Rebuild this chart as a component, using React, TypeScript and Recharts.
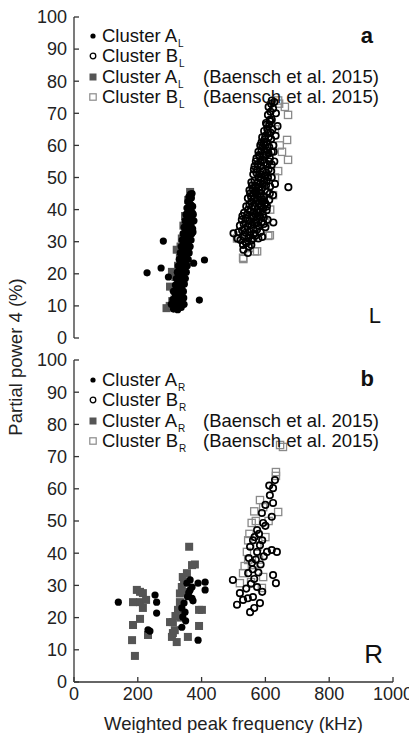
import React from 'react';
import { ScatterChart, Scatter, XAxis, YAxis, Legend } from 'recharts';

type Pt = [number, number];

const xTicks = [0, 200, 400, 600, 800, 1000];
const yTicks = [0, 10, 20, 30, 40, 50, 60, 70, 80, 90, 100];

// panel a (L): this study
const clusterAL: Pt[] = [
  [312, 9], [320, 9.5], [328, 10], [336, 9.5], [316, 11], [324, 11.8], [332, 11], [340, 10.5],
  [318, 13], [327, 13.5], [335, 12.8], [322, 15], [330, 15.5], [338, 15.2], [325, 17], [333, 17.5],
  [341, 17], [328, 19.2], [336, 19.5], [344, 19], [331, 21], [339, 21.8], [347, 21], [334, 23],
  [342, 23.5], [350, 22.8], [337, 25], [345, 25.6], [353, 25], [340, 27], [348, 27.4], [356, 27.2],
  [343, 29], [351, 29.6], [359, 29], [346, 31], [354, 31.5], [362, 30.8], [349, 33], [357, 33.5],
  [364, 33.2], [352, 35], [360, 35.6], [367, 35], [355, 37], [362, 37.5], [369, 37.2], [357, 39],
  [364, 39.5], [371, 39], [360, 41], [367, 41.5], [362, 43], [368, 43.6], [365, 44.8], [376, 36.5],
  [373, 33], [318, 9.8], [325, 8.8], [310, 12], [344, 12.5], [312, 14.5], [343, 14.5], [318, 16.5],
  [346, 16.8], [321, 18.5], [349, 18.5], [324, 20.5], [352, 20.5], [327, 22.5], [355, 22.5],
  [330, 24.5], [358, 24.5], [333, 26.5], [361, 26.5], [336, 28.5], [364, 28.5], [339, 30.5],
  [367, 30.5], [342, 32.5], [369, 32.5], [345, 34.5], [372, 34], [348, 36.5], [374, 38.5],
  [351, 38.5], [354, 40.5], [372, 41], [357, 42.5], [370, 45], [360, 44],
  [229, 20.3], [280, 30.2], [273, 21.8], [393, 11.8], [409, 24.3], [375, 23.3],
  [296, 19], [305, 10.5], [345, 10.5],
];

const clusterBL: Pt[] = [
  [545, 26.5], [531, 27.5], [548, 28.5], [540, 29.5], [556, 29],
  [500, 32.6], [512, 31], [522, 30.5], [533, 31.5], [546, 31], [558, 30.5], [568, 31.8], [578, 31],
  [590, 31.5], [515, 33], [527, 33.5], [538, 32.8], [551, 33.2], [563, 32.5], [574, 33.8], [585, 33],
  [520, 35], [532, 35.5], [544, 34.8], [556, 35.2], [566, 35.8], [578, 35], [588, 36], [600, 34.5],
  [625, 36], [526, 36.8], [538, 37.2], [550, 36.5], [561, 37.5], [572, 37], [583, 37.8], [595, 37.5],
  [607, 36.8], [533, 39], [543, 38.5], [553, 39.5], [563, 39], [574, 40], [584, 39.5], [594, 40.5],
  [604, 39.8], [540, 41], [550, 41.5], [560, 41], [570, 42], [580, 41.8], [590, 42.5], [600, 42],
  [612, 43], [545, 43.5], [555, 44], [565, 43.5], [575, 44.5], [585, 45], [595, 44.2], [606, 45.5],
  [624, 44.5], [550, 46], [560, 46.5], [570, 46], [580, 47], [590, 46.8], [602, 47.5], [615, 47.2],
  [672, 47], [630, 48], [556, 48.5], [566, 49], [576, 48.5], [586, 49.5], [596, 49], [608, 50],
  [620, 50], [562, 51], [572, 51.5], [582, 51], [592, 52], [603, 51.5], [618, 52], [566, 53.5],
  [576, 54], [586, 53.5], [596, 54.5], [606, 54], [628, 55], [572, 56], [582, 56.5], [592, 55.5],
  [602, 57], [614, 56], [578, 58], [588, 58.5], [598, 58], [620, 58], [584, 60], [594, 60.5],
  [604, 61], [612, 59.5], [625, 60], [590, 62.5], [600, 63], [610, 62.5], [632, 63], [596, 64.5],
  [606, 65], [616, 64], [638, 66], [602, 67], [612, 66.5], [620, 68], [608, 69.5], [616, 70.5],
  [624, 71.5], [628, 73.5], [618, 73], [633, 70],
  [538, 30], [552, 32], [562, 34], [572, 36], [582, 38], [592, 38.5], [548, 35.5], [558, 38],
  [568, 38.5], [578, 39], [588, 41], [598, 41.5], [546, 40], [556, 42.5], [566, 41], [576, 43],
  [586, 43.8], [596, 43], [552, 45], [562, 45], [572, 45.5], [582, 46], [592, 48], [604, 49],
  [558, 47.5], [568, 47.5], [578, 50], [588, 51], [598, 50.5], [610, 52.5], [564, 52.5], [574, 52.5],
  [584, 55], [594, 57], [604, 58.5], [612, 55], [570, 55], [580, 57], [590, 59.5], [600, 60],
  [610, 57.5], [588, 61], [598, 62], [608, 64], [618, 62], [604, 66.5], [614, 68], [622, 65],
  [610, 72], [620, 74], [535, 34], [528, 38], [560, 31], [530, 29], [595, 35.5], [605, 41],
  [614, 45], [620, 54], [626, 58], [615, 67.5],
];

// panel a (L): Baensch et al. 2015
const baenschAL: Pt[] = [
  [364, 45.5], [358, 43], [348, 38], [343, 35], [338, 31], [334, 28.5], [322, 27.5], [332, 25],
  [326, 22.5], [307, 20.6], [318, 19], [301, 16], [312, 15.5], [325, 16], [315, 12], [290, 9.3],
  [300, 10], [308, 11.5], [323, 14],
];

const baenschBL: Pt[] = [
  [640, 74], [661, 72], [671, 69.5], [668, 61.7], [652, 58], [671, 55.5], [643, 73], [518, 30.9],
  [531, 24.6], [567, 27], [609, 31.8], [624, 44.5], [550, 28], [600, 36], [615, 40], [640, 52],
  [630, 65], [645, 60], [630, 50], [614, 32], [511, 31], [574, 27], [530, 25],
];

// panel b (R): this study
const clusterAR: Pt[] = [
  [139, 24.8], [254, 27], [259, 24.8], [259, 21.4], [232, 16.2], [238, 15.8], [338, 17], [341, 20.2],
  [348, 21.7], [354, 30.7], [364, 28.6], [370, 26], [373, 25.2], [356, 26.5], [364, 31.7], [389, 30.7],
  [411, 31], [411, 28.6], [389, 13], [338, 23], [350, 19], [360, 27.8], [345, 24.5], [370, 29.5],
];

const clusterBR: Pt[] = [
  [630, 62.7], [624, 60.2], [614, 58], [624, 55.6], [620, 51.3], [589, 52.5], [593, 49.4], [574, 47.2],
  [561, 44], [552, 42], [620, 41], [605, 40.4], [636, 40.4], [624, 33.2], [633, 30.7], [498, 31.7],
  [520, 27.6], [530, 25.5], [511, 24], [552, 21.7], [583, 24.5], [561, 26.4], [574, 29.5], [546, 33.8],
  [558, 37], [570, 38], [583, 42.5], [574, 40.4], [566, 45], [580, 46], [590, 44], [600, 48.5],
  [600, 55], [612, 61], [540, 29], [555, 30.5], [565, 32], [578, 34], [585, 36.5], [548, 38.5],
  [595, 39], [560, 35], [545, 26], [565, 23], [590, 28],
];

// panel b (R): Baensch et al. 2015
const baenschAR: Pt[] = [
  [361, 42], [379, 36.5], [370, 36.3], [354, 33.8], [341, 32.6], [338, 29.5], [332, 24.8], [326, 22.4],
  [301, 18.6], [310, 18.6], [310, 15.2], [307, 14], [322, 12.4], [316, 16.1], [357, 14], [392, 22.4],
  [401, 22.4], [392, 17.4], [332, 27.5], [345, 31], [350, 28], [335, 20], [318, 20.5], [197, 28.6],
  [207, 28], [216, 27.6], [185, 24.8], [207, 24.8], [226, 25.5], [216, 23], [207, 19.6], [185, 17.7],
  [182, 13], [191, 8.1], [232, 14.6],
];

const baenschBR: Pt[] = [
  [646, 73.6], [655, 73], [633, 65.2], [633, 64], [583, 56.5], [640, 52.8], [557, 49.4], [546, 44],
  [542, 40.4], [546, 37.9], [530, 33.8], [520, 30.7], [593, 32.6], [589, 29.2], [562, 36.3], [593, 54.3],
  [570, 50], [550, 46], [575, 42], [580, 38], [555, 31], [600, 45], [535, 36], [565, 53], [610, 50],
];

const legendNames = ['Cluster A', 'Cluster B', 'Cluster A', 'Cluster B'];
const legendSource = ['', '', '(Baensch et al. 2015)', '(Baensch et al. 2015)'];

const FONT = '"Liberation Sans", Arial, Helvetica, sans-serif';
const AXIS = '#333';

const rows = (pts: Pt[]) => pts.map(([x, y]) => ({ x, y }));

const Dot = (p: any) => <circle cx={p.cx} cy={p.cy} r={3.6} fill="#000" />;
const Ring = (p: any) => (
  <circle cx={p.cx} cy={p.cy} r={3.2} fill="none" stroke="#000" strokeWidth={1.7} />
);
const FillSq = (p: any) => <rect x={p.cx - 4} y={p.cy - 4} width={8} height={8} fill="#555" />;
const OpenSq = (p: any) => (
  <rect x={p.cx - 3.6} y={p.cy - 3.6} width={7.2} height={7.2} fill="none" stroke="#8a8a8a" strokeWidth={1.3} />
);

const legendMarks = [
  <circle cx={6} cy={6} r={2.6} fill="#000" />,
  <circle cx={6} cy={6} r={2.8} fill="none" stroke="#000" strokeWidth={1.3} />,
  <rect x={2.5} y={2.5} width={7} height={7} fill="#555" />,
  <rect x={2.8} y={2.8} width={6.4} height={6.4} fill="none" stroke="#8a8a8a" strokeWidth={1.2} />,
];

const makeLegend = (sub: string) => () => (
  <div style={{ fontFamily: FONT, fontSize: 18.5, color: '#111' }}>
    {legendNames.map((name, i) => (
      <div key={i} style={{ display: 'flex', alignItems: 'center', height: 20.3, whiteSpace: 'nowrap' }}>
        <svg width={12} height={12} style={{ marginRight: 3 }}>{legendMarks[i]}</svg>
        <span style={{ display: 'inline-block', width: 101 }}>
          {name}
          <span style={{ fontSize: 10, position: 'relative', top: 5, marginLeft: 1 }}>{sub}</span>
        </span>
        <span>{legendSource[i]}</span>
      </div>
    ))}
  </div>
);

interface PanelProps {
  sub: string;
  top: number;
  height: number;
  marginTop: number;
  marginBottom: number;
  legendTop: number;
  xLabels: boolean;
  a: Pt[];
  b: Pt[];
  ba: Pt[];
  bb: Pt[];
}

const axisLine = { stroke: AXIS, strokeWidth: 1.3 };
const tickFont = { fill: '#222', fontSize: 18, fontFamily: FONT };
const blank = () => '';

function Panel(p: PanelProps) {
  return (
    <div style={{ position: 'absolute', left: 0, top: p.top }}>
      <ScatterChart
        width={409}
        height={p.height}
        margin={{ top: p.marginTop, right: 16, bottom: p.marginBottom, left: 34 }}
      >
        <XAxis
          xAxisId="bottom"
          type="number"
          dataKey="x"
          domain={[0, 1000]}
          ticks={xTicks}
          interval={0}
          height={p.xLabels ? 48 : 0}
          axisLine={axisLine}
          tickLine={axisLine}
          tickSize={-5}
          tickMargin={10}
          tick={tickFont}
          tickFormatter={p.xLabels ? undefined : blank}
          label={
            p.xLabels
              ? {
                  value: 'Weighted peak frequency (kHz)',
                  position: 'insideBottom',
                  offset: 0,
                  style: { fill: '#222', fontSize: 18.5, fontFamily: FONT },
                }
              : undefined
          }
        />
        <XAxis
          xAxisId="top"
          orientation="top"
          type="number"
          domain={[0, 1000]}
          ticks={xTicks}
          interval={0}
          height={0}
          axisLine={axisLine}
          tickLine={axisLine}
          tickSize={-5}
          tickFormatter={blank}
        />
        <YAxis
          yAxisId="left"
          type="number"
          dataKey="y"
          domain={[0, 100]}
          ticks={yTicks}
          interval={0}
          width={40}
          axisLine={axisLine}
          tickLine={axisLine}
          tickSize={-5}
          tickMargin={12}
          tick={tickFont}
        />
        <YAxis
          yAxisId="right"
          orientation="right"
          type="number"
          domain={[0, 100]}
          ticks={yTicks}
          interval={0}
          width={0}
          axisLine={axisLine}
          tickLine={axisLine}
          tickSize={-5}
          tickFormatter={blank}
        />
        <Legend
          layout="vertical"
          align="center"
          verticalAlign="middle"
          wrapperStyle={{ left: 87, top: p.legendTop, width: 320 }}
          content={makeLegend(p.sub)}
        />
        <Scatter name="Baensch B" xAxisId="bottom" yAxisId="left" data={rows(p.bb)} shape={OpenSq} isAnimationActive={false} />
        <Scatter name="Baensch A" xAxisId="bottom" yAxisId="left" data={rows(p.ba)} shape={FillSq} isAnimationActive={false} />
        <Scatter name="Cluster B" xAxisId="bottom" yAxisId="left" data={rows(p.b)} shape={Ring} isAnimationActive={false} />
        <Scatter name="Cluster A" xAxisId="bottom" yAxisId="left" data={rows(p.a)} shape={Dot} isAnimationActive={false} />
      </ScatterChart>
    </div>
  );
}

export default function App() {
  return (
    <div style={{ position: 'absolute', left: 0, top: 0, width: 409, height: 733, background: '#fff', overflow: 'hidden' }}>
      <Panel sub="L" top={0} height={350} marginTop={17} marginBottom={12} legendTop={26} xLabels={false}
        a={clusterAL} b={clusterBL} ba={baenschAL} bb={baenschBL} />
      <Panel sub="R" top={340} height={393} marginTop={20} marginBottom={3} legendTop={30} xLabels
        a={clusterAR} b={clusterBR} ba={baenschAR} bb={baenschBR} />
      <svg width={409} height={733} style={{ position: 'absolute', left: 0, top: 0, pointerEvents: 'none' }}>
        <text transform="translate(22,357) rotate(-90)" textAnchor="middle" fontFamily={FONT} fontSize={18.5} fill="#222">
          Partial power 4 (%)
        </text>
        <text x={373} y={43} textAnchor="end" fontFamily={FONT} fontSize={22} fontWeight="bold" fill="#111">a</text>
        <text x={381} y={323} textAnchor="end" fontFamily={FONT} fontSize={22} fill="#111">L</text>
        <text x={374} y={386} textAnchor="end" fontFamily={FONT} fontSize={22} fontWeight="bold" fill="#111">b</text>
        <text x={383} y={663} textAnchor="end" fontFamily={FONT} fontSize={26} fill="#111">R</text>
      </svg>
    </div>
  );
}
